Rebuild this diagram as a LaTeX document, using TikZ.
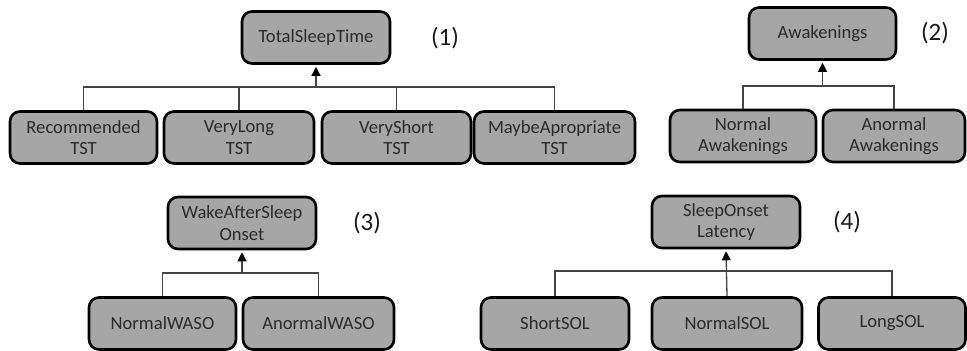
\documentclass[tikz,border=0pt]{standalone}
\usepackage{fontspec}
\setmainfont{Carlito}
\usetikzlibrary{arrows.meta}
\definecolor{boxfill}{HTML}{A6A6A6}
\definecolor{boxtext}{HTML}{2A2A2A}
\definecolor{linkgray}{HTML}{444444}
\begin{document}
\begin{tikzpicture}[x=0.5pt,y=-0.5pt,
  cls/.style={draw=black, line width=1.3pt, fill=boxfill, rounded corners=5pt,
    minimum height=26pt, align=center, text=boxtext, inner sep=1pt,
    font=\fontsize{9.3}{10.8}\selectfont},
  tag/.style={font=\fontsize{12.5}{14}\selectfont, text=black!90},
  link/.style={draw=linkgray, line width=0.65pt},
  up/.style={link, -{Triangle[length=4.5pt,width=4.5pt,color=black]}, shorten >=1pt}]
\useasboundingbox (0,0) rectangle (967,351);

% (1) total sleep time
\node[cls, minimum width=74pt] (tst) at (316,37.5) {TotalSleepTime};
\node[tag] (t1) at (445,38) {(1)};
\node[cls, minimum width=73.5pt] (rec) at (83.5,137.5) {Recommended\\TST};
\node[cls, minimum width=75pt] (vl) at (239,137.5) {VeryLong\\TST};
\node[cls, minimum width=74.5pt] (vs) at (396.5,137.5) {VeryShort\\TST};
\node[cls, minimum width=80.5pt] (ma) at (554.5,137.5) {MaybeApropriate\\TST};
\coordinate (j1) at (316,87);
\draw[link] (rec.north) |- (j1);
\draw[link] (vl.north) |- (j1);
\draw[link] (vs.north) |- (j1);
\draw[link] (ma.north) |- (j1);
\draw[up] (j1) -- (tst.south);

% (2) awakenings
\node[cls, minimum width=73.5pt] (aw) at (822.5,33.5) {Awakenings};
\node[tag] (t2) at (935,33) {(2)};
\node[cls, minimum width=73pt] (naw) at (743,136) {Normal\\Awakenings};
\node[cls, minimum width=71pt] (anw) at (894,136) {Anormal\\Awakenings};
\coordinate (j2) at (822.5,86);
\draw[link] (naw.north) |- (j2);
\draw[link] (anw.north) |- (j2);
\draw[up] (j2) -- (aw.south);

% (3) wake after sleep onset
\node[cls, minimum width=74pt] (waso) at (242,223) {WakeAfterSleep\\Onset};
\node[tag] (t3) at (367,223) {(3)};
\node[cls, minimum width=73.5pt] (nwaso) at (162.5,323.5) {NormalWASO};
\node[cls, minimum width=75.5pt] (awaso) at (318.5,323.5) {AnormalWASO};
\coordinate (j3) at (242,273);
\draw[link] (nwaso.north) |- (j3);
\draw[link] (awaso.north) |- (j3);
\draw[up] (j3) -- (waso.south);

% (4) sleep onset latency
\node[cls, minimum width=74pt] (sol) at (726,222) {SleepOnset\\Latency};
\node[tag] (t4) at (847,222) {(4)};
\node[cls, minimum width=74pt] (ssol) at (555,323.5) {ShortSOL};
\node[cls, minimum width=75pt] (nsol) at (727,323.5) {NormalSOL};
\node[cls, minimum width=73.5pt] (lsol) at (892,323.5) {LongSOL};
\coordinate (j4) at (726,271);
\draw[link] (ssol.north) |- (j4);
\draw[link] (lsol.north) |- (j4);
\draw[up] (nsol.north) -- (sol.south);
\end{tikzpicture}
\end{document}
